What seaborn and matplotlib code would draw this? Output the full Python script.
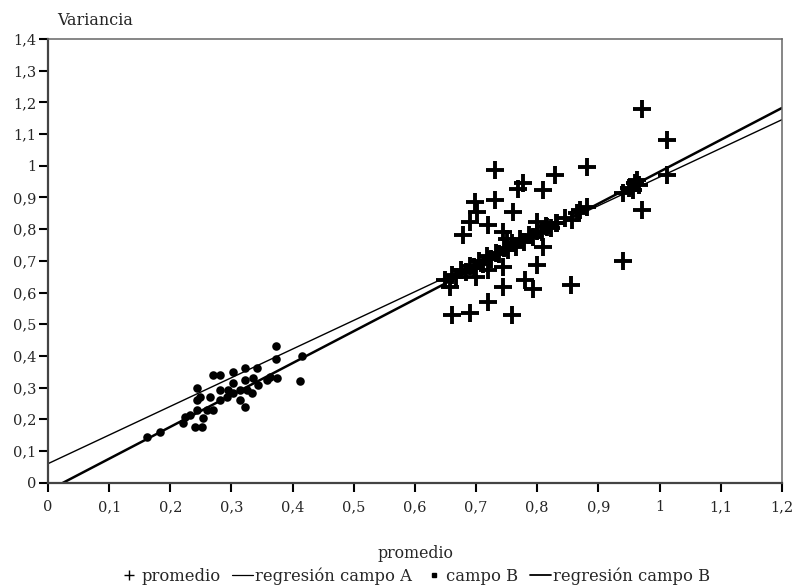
import matplotlib
matplotlib.use('Agg')
import matplotlib.pyplot as plt
import numpy as np
import pandas as pd
import seaborn as sns
from matplotlib.lines import Line2D
from matplotlib.ticker import FuncFormatter

sns.set_style('white')
plt.rcParams['font.family'] = ['DejaVu Serif', 'Liberation Serif']

# campo A (promedio, varianza) - cruces
a_x = [0.731, 0.777, 0.769, 0.810, 0.829, 0.699, 0.731, 0.761, 0.702, 0.690,
       0.720, 0.679, 0.744, 0.750, 0.800, 0.810, 0.800, 0.780, 0.793, 0.744,
       0.744, 0.720, 0.700, 0.658, 0.720, 0.660, 0.690, 0.759, 0.972, 1.013,
       0.882, 1.013, 0.963, 0.957, 0.940, 0.972, 0.940, 0.882, 0.865, 0.857,
       0.833, 0.816, 0.856, 0.967,
       0.650, 0.660, 0.668, 0.675, 0.683, 0.690, 0.697, 0.705, 0.712, 0.718,
       0.725, 0.732, 0.738, 0.745, 0.752, 0.758, 0.765, 0.772, 0.779, 0.786,
       0.793, 0.800, 0.808, 0.815, 0.822, 0.830, 0.845, 0.870, 0.950, 0.960]
a_y = [0.986, 0.945, 0.926, 0.923, 0.970, 0.886, 0.891, 0.853, 0.853, 0.822,
       0.812, 0.780, 0.790, 0.770, 0.822, 0.743, 0.686, 0.640, 0.610, 0.618,
       0.681, 0.670, 0.650, 0.618, 0.570, 0.528, 0.535, 0.528, 1.180, 1.081,
       0.996, 0.970, 0.955, 0.923, 0.913, 0.860, 0.700, 0.870, 0.850, 0.829,
       0.818, 0.806, 0.623, 0.940,
       0.640, 0.655, 0.650, 0.670, 0.665, 0.685, 0.680, 0.700, 0.690, 0.715,
       0.705, 0.725, 0.720, 0.740, 0.735, 0.755, 0.745, 0.770, 0.760, 0.780,
       0.775, 0.795, 0.790, 0.810, 0.805, 0.820, 0.835, 0.860, 0.930, 0.945]

# campo B - puntos
b_x = [0.373, 0.412, 0.415, 0.373, 0.363, 0.374, 0.342, 0.322, 0.303, 0.270,
       0.281, 0.322, 0.303, 0.333, 0.322, 0.314, 0.295, 0.293, 0.281, 0.265,
       0.260, 0.270, 0.243, 0.243, 0.252, 0.240, 0.254, 0.224, 0.221, 0.232,
       0.183, 0.162, 0.344, 0.336, 0.314, 0.303, 0.281, 0.325, 0.358, 0.243,
       0.249]
b_y = [0.431, 0.321, 0.400, 0.390, 0.334, 0.330, 0.361, 0.361, 0.350, 0.340,
       0.340, 0.324, 0.315, 0.283, 0.240, 0.261, 0.292, 0.270, 0.261, 0.270,
       0.229, 0.229, 0.261, 0.229, 0.176, 0.176, 0.204, 0.208, 0.189, 0.213,
       0.160, 0.145, 0.308, 0.330, 0.292, 0.283, 0.292, 0.292, 0.324, 0.298,
       0.270]

reg_x = [0.0, 1.2]
reg_a = [0.060, 1.145]
reg_b = [-0.025, 1.182]

df_a = pd.DataFrame({'promedio': a_x, 'varianza': a_y})
df_b = pd.DataFrame({'promedio': b_x, 'varianza': b_y})
df_reg = pd.DataFrame({'x': reg_x, 'A': reg_a, 'B': reg_b})

fig = plt.figure(figsize=(7.95, 5.87), dpi=100)
ax = fig.add_axes([0.0604, 0.1777, 0.923, 0.756])

sns.lineplot(data=df_reg, x='x', y='A', color='black', linewidth=1.0, ax=ax)
sns.lineplot(data=df_reg, x='x', y='B', color='black', linewidth=1.8, ax=ax)
sns.scatterplot(data=df_a, x='promedio', y='varianza', marker='+', s=160,
                linewidth=2.8, color='black', ax=ax)
sns.scatterplot(data=df_b, x='promedio', y='varianza', marker='o', s=38,
                linewidth=0, color='black', ax=ax)

ax.set_xlim(0, 1.2)
ax.set_ylim(0, 1.4)
ax.set_xticks(np.arange(0, 1.21, 0.1))
ax.set_yticks(np.arange(0, 1.41, 0.1))
coma = FuncFormatter(lambda v, p: ('%g' % round(v, 1)).replace('.', ','))
ax.xaxis.set_major_formatter(coma)
ax.yaxis.set_major_formatter(coma)
ax.tick_params(axis='both', direction='out', length=6.5, width=1.5,
               color='black', labelsize=10.5, left=True, bottom=True)
ax.tick_params(axis='y', pad=2)
ax.tick_params(axis='x', pad=6)
ax.set_xlabel('')
ax.set_ylabel('')
for s in ['left', 'bottom']:
    ax.spines[s].set_color('#444444')
    ax.spines[s].set_linewidth(1.6)
for s in ['top', 'right']:
    ax.spines[s].set_color('#666666')
    ax.spines[s].set_linewidth(1.1)

fig.text(0.072, 0.965, 'Variancia', fontsize=11.5, ha='left', va='center')
fig.text(0.522, 0.057, 'promedio', fontsize=11.3, ha='center', va='center')

handles = [
    Line2D([], [], marker='+', color='black', linestyle='none', markersize=7, mew=1),
    Line2D([], [], color='black', linewidth=0.9),
    Line2D([], [], marker='s', color='black', linestyle='none', markersize=3.5),
    Line2D([], [], color='black', linewidth=1.3),
]
labels = ['promedio', 'regresión campo A', 'campo B', 'regresión campo B']
fig.legend(handles, labels, loc='center', bbox_to_anchor=(0.521, 0.018), ncol=4,
           frameon=False, fontsize=11.8, handlelength=1.3, handletextpad=0.1,
           columnspacing=0.7, borderaxespad=0)

fig.savefig('out.png', dpi=100)
